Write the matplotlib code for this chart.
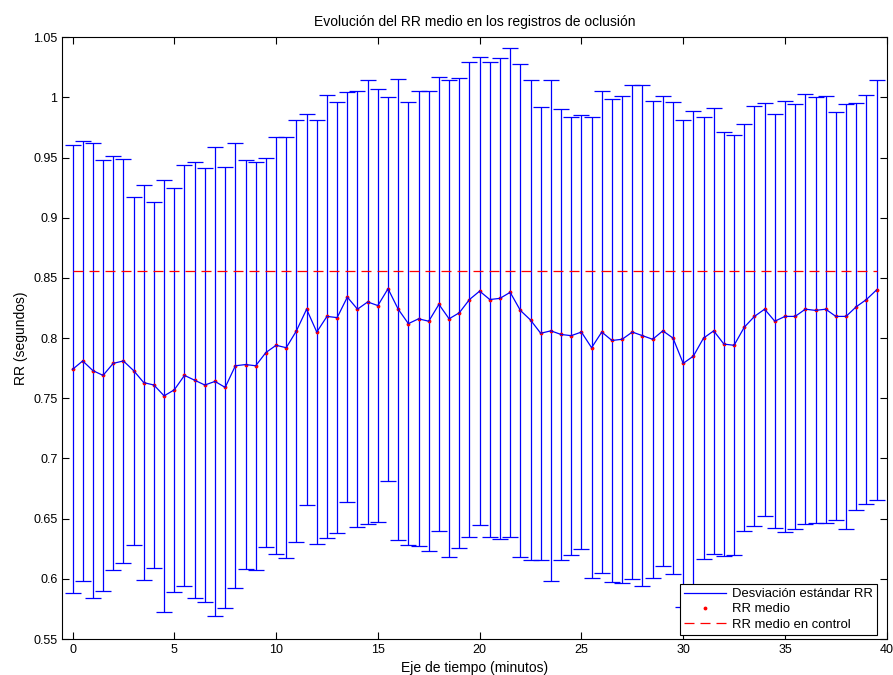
import numpy as np
import matplotlib
matplotlib.use("Agg")
import matplotlib.pyplot as plt
from matplotlib.lines import Line2D

plt.rcParams['font.family'] = ['Liberation Sans', 'DejaVu Sans']

# tiempo en minutos (cada 30 s)
tiempo = np.arange(0, 40, 0.5)

rr_medio = [
    0.774, 0.781, 0.773, 0.769, 0.779, 0.781, 0.773, 0.763, 0.761, 0.752,
    0.757, 0.769, 0.765, 0.761, 0.764, 0.759, 0.777, 0.778, 0.777, 0.788,
    0.794, 0.792, 0.806, 0.824, 0.805, 0.818, 0.817, 0.834, 0.824, 0.830,
    0.827, 0.841, 0.824, 0.812, 0.816, 0.814, 0.828, 0.816, 0.821, 0.832,
    0.839, 0.832, 0.833, 0.838, 0.823, 0.815, 0.804, 0.806, 0.803, 0.802,
    0.805, 0.792, 0.805, 0.798, 0.799, 0.805, 0.802, 0.799, 0.806, 0.800,
    0.779, 0.785, 0.800, 0.806, 0.795, 0.794, 0.809, 0.818, 0.824, 0.814,
    0.818, 0.818, 0.824, 0.823, 0.824, 0.818, 0.818, 0.826, 0.832, 0.840,
]

rr_std = [
    0.186, 0.1825, 0.189, 0.179, 0.172, 0.1675, 0.1445, 0.164, 0.152, 0.1795,
    0.168, 0.175, 0.181, 0.180, 0.195, 0.1835, 0.185, 0.170, 0.1695, 0.1615,
    0.173, 0.175, 0.1755, 0.1625, 0.176, 0.184, 0.179, 0.1705, 0.181, 0.1845,
    0.1795, 0.1595, 0.1915, 0.184, 0.189, 0.191, 0.1885, 0.198, 0.195, 0.1975,
    0.1945, 0.197, 0.200, 0.203, 0.2045, 0.199, 0.188, 0.208, 0.1875, 0.182,
    0.180, 0.1915, 0.200, 0.2005, 0.2025, 0.205, 0.208, 0.198, 0.1955, 0.196,
    0.202, 0.204, 0.1835, 0.185, 0.176, 0.1745, 0.169, 0.1745, 0.1715, 0.172,
    0.179, 0.1765, 0.1785, 0.177, 0.1775, 0.1695, 0.1765, 0.169, 0.170, 0.1745,
]

rr_control = 0.856

fig = plt.figure(figsize=(8.93, 6.75), dpi=100)
ax = fig.add_axes([0.0698, 0.0533, 0.9232, 0.8917])

ax.errorbar(tiempo, rr_medio, yerr=rr_std, color='#0000ff', lw=0.9,
            elinewidth=0.9, capsize=5.8, capthick=0.9)
ax.plot(tiempo, rr_medio, '.', color='#ff0000', ms=3.5)
ax.plot([tiempo[0], tiempo[-1]], [rr_control, rr_control], '--',
        color='#ff0000', lw=0.9, dashes=(8, 4.8))

ax.set_xlim(-0.5, 40)
ax.set_ylim(0.55, 1.05)
ax.set_xticks(np.arange(0, 41, 5))
ax.set_yticks(np.arange(0.55, 1.051, 0.05))
ax.set_yticklabels(['0.55', '0.6', '0.65', '0.7', '0.75', '0.8', '0.85',
                    '0.9', '0.95', '1', '1.05'])
ax.tick_params(direction='in', top=True, right=True, length=5,
               labelsize=9)
for s in ax.spines.values():
    s.set_linewidth(0.8)

ax.set_title('Evolución del RR medio en los registros de oclusión',
             fontsize=10, pad=8)
ax.set_xlabel('Eje de tiempo (minutos)', fontsize=10, labelpad=4)
ax.set_ylabel('RR (segundos)', fontsize=10, labelpad=4)

handles = [
    Line2D([], [], color='#0000ff', lw=0.9),
    Line2D([], [], color='#ff0000', marker='.', ls='none', ms=3.5),
    Line2D([], [], color='#ff0000', lw=0.9, ls='--', dashes=(8, 4.8)),
]
labels = ['Desviación estándar RR', 'RR medio', 'RR medio en control']
leg = ax.legend(handles, labels, loc='lower right', fontsize=9.4,
                fancybox=False, framealpha=1, edgecolor='black',
                borderpad=0.3, labelspacing=0.25, handlelength=3.2,
                handletextpad=0.5, borderaxespad=0,
                bbox_to_anchor=(0.988, 0.007))
leg.get_frame().set_linewidth(0.8)

fig.savefig('out.png', dpi=100)
